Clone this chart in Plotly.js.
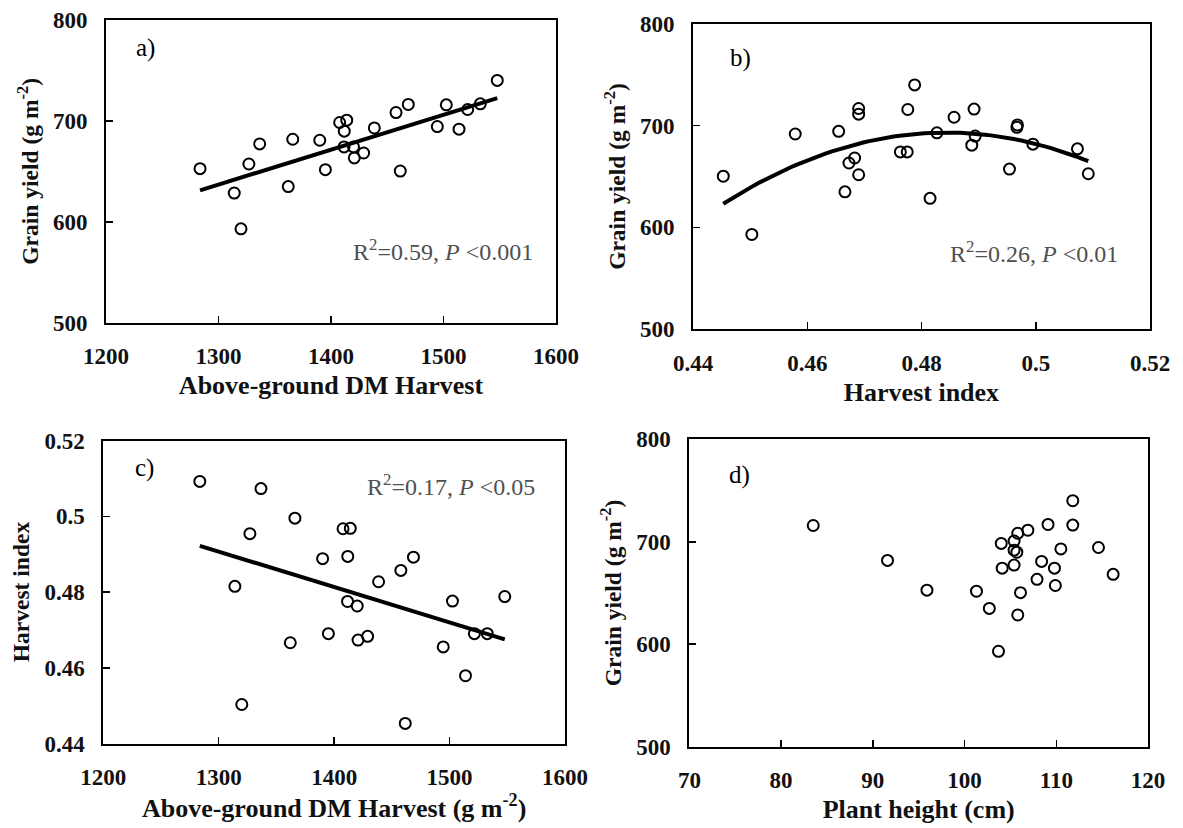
<!DOCTYPE html>
<html>
<head>
<meta charset="utf-8">
<script src="https://cdn.plot.ly/plotly-3.0.1.min.js"></script>
<style>html,body{margin:0;padding:0;background:#fff;}#chart{width:1183px;height:828px;}
.xtick text,.ytick text,.x2tick text,.y2tick text,.x3tick text,.y3tick text,.x4tick text,.y4tick text{font-weight:700 !important;}</style>
</head>
<body>
<div id="chart"></div>
<script>
// ---- data (one entry per plot) ----
const dmHarvest = [1283.6, 1314, 1320, 1327, 1336.6, 1362, 1366, 1390, 1395, 1407.7, 1414, 1411.8, 1411.6,
                   1420, 1420.7, 1429, 1438.5, 1457.8, 1461.6, 1468.7, 1494.5, 1502.5, 1513.8, 1521.5, 1532.7, 1547.8];
const grainYield = [652.7, 628.5, 593, 657.3, 677.2, 634.9, 681.8, 680.8, 651.7, 698.4, 700.7, 689.8, 674.2,
                    674.2, 663.3, 668.2, 693, 708.3, 650.3, 716.3, 694.4, 715.9, 691.8, 711.3, 716.9, 740.1];
const harvestIndex = [0.5092, 0.4815, 0.4503, 0.4954, 0.5073, 0.4666, 0.4995, 0.4888, 0.4690, 0.4967, 0.4968, 0.4894, 0.4775,
                      0.4763, 0.4673, 0.4683, 0.4827, 0.4857, 0.4453, 0.4892, 0.4655, 0.4776, 0.4579, 0.4690, 0.4690, 0.4788];
const plantHeight = [95.9, 105.8, 103.7, 109.9, 105.4, 102.7, 91.6, 108.4, 101.3, 104.0, 105.4, 105.7, 104.1,
                     109.8, 107.9, 116.2, 110.5, 105.8, 106.1, 111.8, 114.6, 83.5, 105.4, 106.9, 109.1, 111.8];

// fitted relations as drawn in the reference
const fitA = [187.2, 0.3459];          // intercept, slope
const fitB = [0.4844, 693.2, -45763];  // vertex x, vertex y, curvature
const fitC = [0.6121, -9.342e-5];      // intercept, slope

// tick labels
const yieldTicks = [500, 600, 700, 800];
const dmTicks = [1200, 1300, 1400, 1500, 1600];
const hiTicks = [0.44, 0.46, 0.48, 0.5, 0.52];
const hiTickText = ['0.44', '0.46', '0.48', '0.5', '0.52'];
const heightTicks = [70, 80, 90, 100, 110, 120];

const statA = 'R<sup>2</sup>=0.59, <i>P</i> &lt;0.001';
const statB = 'R<sup>2</sup>=0.26, <i>P</i> &lt;0.01';
const statC = 'R<sup>2</sup>=0.17, <i>P</i> &lt;0.05';

// ---- build ----
function sampleCurve(xs, f) {
  const lo = Math.min(...xs), hi = Math.max(...xs);
  const X = [], Y = [];
  for (let i = 0; i <= 60; i++) { const x = lo + (hi - lo) * i / 60; X.push(x); Y.push(f(x)); }
  return {x: X, y: Y};
}
const lineA = sampleCurve(dmHarvest, x => fitA[0] + fitA[1] * x);
const curveB = sampleCurve(harvestIndex, x => fitB[1] + fitB[2] * (x - fitB[0]) * (x - fitB[0]));
const lineC = sampleCurve(dmHarvest, x => fitC[0] + fitC[1] * x);

const marker = {symbol: 'circle-open', size: 11, color: '#000', line: {width: 2, color: '#000'}};
const fitLine = {color: '#000', width: 4};

const traces = [
  {x: dmHarvest, y: grainYield, mode: 'markers', type: 'scatter', marker: marker, xaxis: 'x', yaxis: 'y'},
  {x: lineA.x, y: lineA.y, mode: 'lines', type: 'scatter', line: fitLine, xaxis: 'x', yaxis: 'y'},
  {x: harvestIndex, y: grainYield, mode: 'markers', type: 'scatter', marker: marker, xaxis: 'x2', yaxis: 'y2'},
  {x: curveB.x, y: curveB.y, mode: 'lines', type: 'scatter', line: fitLine, xaxis: 'x2', yaxis: 'y2'},
  {x: dmHarvest, y: harvestIndex, mode: 'markers', type: 'scatter', marker: marker, xaxis: 'x3', yaxis: 'y3'},
  {x: lineC.x, y: lineC.y, mode: 'lines', type: 'scatter', line: fitLine, xaxis: 'x3', yaxis: 'y3'},
  {x: plantHeight, y: grainYield, mode: 'markers', type: 'scatter', marker: marker, xaxis: 'x4', yaxis: 'y4'}
];

const W = 1183, H = 828;
const serif = 'Liberation Serif';
const tickFont = {family: serif, size: 23, color: '#111', weight: 700};
const xTitleFont = {family: serif, size: 26, color: '#111', weight: 700};
const yTitleFont = {family: serif, size: 23.5, color: '#111', weight: 700};

function axis(px0, px1, range, tv, tt, title, isX, anchor, standoff) {
  return {
    domain: isX ? [px0 / W, px1 / W] : [1 - px1 / H, 1 - px0 / H],
    range: range, tickmode: 'array', tickvals: tv, ticktext: tt || tv.map(String),
    ticks: 'inside', ticklen: 7, tickwidth: 1.5, tickcolor: '#000',
    showline: true, linewidth: 2, linecolor: '#000', mirror: true,
    showgrid: false, zeroline: false, anchor: anchor,
    tickfont: tickFont, ticklabelstandoff: 12,
    title: {text: title, font: isX ? xTitleFont : yTitleFont, standoff: standoff}
  };
}

const letterFont = {family: serif, size: 25, color: '#000'};
const statFont = {family: serif, size: 24, color: '#505050'};
function note(text, ax, x, y, xanchor, font) {
  return {text: text, xref: ax[0] + ' domain', yref: ax[1] + ' domain', x: x, y: y,
          xanchor: xanchor, yanchor: 'middle', showarrow: false, font: font};
}

const layout = {
  width: W, height: H, margin: {l: 0, r: 0, t: 0, b: 0},
  paper_bgcolor: '#fff', plot_bgcolor: '#fff', showlegend: false,
  xaxis:  axis(106, 556, [1200, 1600], dmTicks, null, 'Above-ground DM Harvest', true, 'y', 8),
  yaxis:  axis(20, 322.7, [500, 800], yieldTicks, null, 'Grain yield (g m<sup>-2</sup>)', false, 'x', 8),
  xaxis2: axis(693, 1150, [0.44, 0.52], hiTicks, hiTickText, 'Harvest index', true, 'y2', 8),
  yaxis2: axis(24, 329, [500, 800], yieldTicks, null, 'Grain yield (g m<sup>-2</sup>)', false, 'x2', 8),
  xaxis3: axis(103.3, 565, [1200, 1600], dmTicks, null, 'Above-ground DM Harvest (g m<sup>-2</sup>)', true, 'y3', 8),
  yaxis3: axis(440.5, 743.5, [0.44, 0.52], hiTicks, hiTickText, 'Harvest index', false, 'x3', 8),
  xaxis4: axis(689.4, 1148, [70, 120], heightTicks, null, 'Plant height (cm)', true, 'y4', 8),
  yaxis4: axis(439.4, 746.5, [500, 800], yieldTicks, null, 'Grain yield (g m<sup>-2</sup>)', false, 'x4', 8),
  annotations: [
    note('a)', ['x', 'y'], 0.087, 0.9075, 'center', letterFont),
    note('b)', ['x2', 'y2'], 0.103, 0.8885, 'center', letterFont),
    note('c)', ['x3', 'y3'], 0.090, 0.909, 'center', letterFont),
    note('d)', ['x4', 'y4'], 0.110, 0.884, 'center', letterFont),
    note(statA, ['x', 'y'], 0.953, 0.240, 'right', statFont),
    note(statB, ['x2', 'y2'], 0.934, 0.2525, 'right', statFont),
    note(statC, ['x3', 'y3'], 0.939, 0.853, 'right', statFont)
  ]
};

Plotly.newPlot('chart', traces, layout, {staticPlot: true, displayModeBar: false});
</script>
</body>
</html>
